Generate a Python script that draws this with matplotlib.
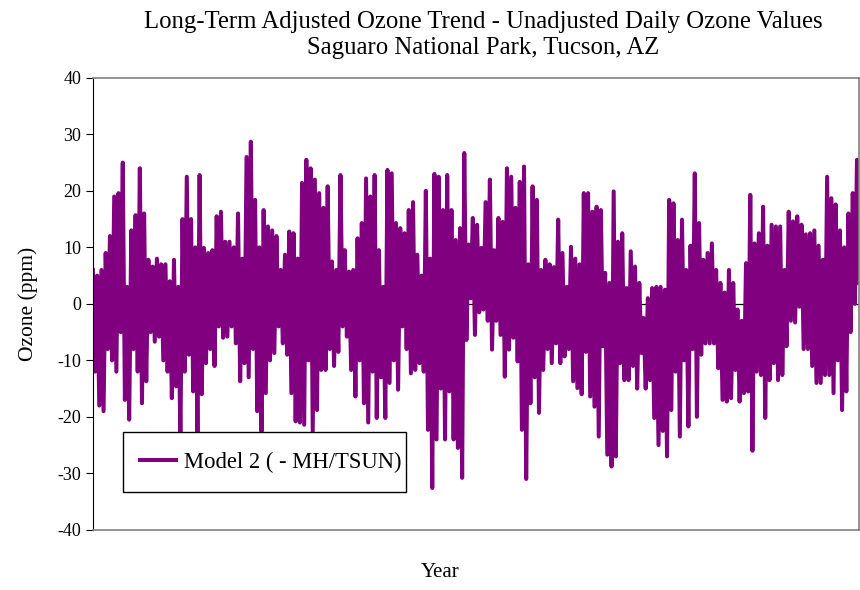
import numpy as np
import matplotlib.pyplot as plt
from matplotlib.patches import Rectangle

# daily ozone residuals (ppm) left to right, in six stretches
seg1 = [6, -12, 5, -18, 6, -19, 9, -8, 12, -10, 19, -12, 19.6, -5, 25, -17, 3, -20.5, 13, -8,
        15.7, -12, 24, -17.6, 16, -13.7, 7.8, -5, 6.6, -6.7, 8, -5.8, 7, -10, 7, -12, 4, -16.7,
        7.8, -14.6, 3, -24, 15, -12, 22.5, -9, 15, -15.5, 10, -23, 22.8, -16, 9.9, -10.5, 9, -8]
seg2 = [9.5, -11, 15.5, -4, 16.3, -6, 11, -5.8, 11, -4, 10, -7, 16, -13.7, 8, -10.5, 26, -13,
        28.7, -8, 18.4, -19, 10, -22.6, 16.6, -15.8, 13.7, -10, 13, -8.7, 12, -4, 6, -7, 8.7, -9,
        12.8, -15.8, 12.5, -20.8, 8, -21, 21.4, -21.4, 25.5, -10, 24, -22.6, 22, -18.8, 19.6, -11.7]
seg3 = [17, -11.7, 20.8, -8, 7.5, -11, 6, -8.5, 22.8, -4, 9.5, -5.8, 5.7, -11.7, 6, -16.4,
        11.6, -10, 14.3, -17.6, 22.2, -21, 19, -12, 22.8, -20.2, 9.5, -13, 3, -20.2, 23.7, -14,
        23.1, -10, 14.3, -15.2, 13.4, -4, 12.5, -8, 16.6, -12.3, 18, -11.7, 8.7, -10.5, 5, -12,
        20, -22.3, 8, -32.6, 23, -24, 22.5, -15, 16.6, -24]
seg4 = [22.8, -15.5, 16.6, -24, 11.3, -25.5, 13.4, -30.8, 26.7, -6.4, 10.5, 1, 15.2, -5.5,
        14, -1.5, 9.9, -1, 18, -3, 22, -8.1, 9.5, -3, 15.2, -5.5, 14.5, -12.9, 24, -8.1, 22.5, -6,
        17, -10.2, 21.6, -22.3, 24.3, -31, 7, -17.6, 20.8, -13, 18.4, -19.3, 6, -11.7, 7.8, -8,
        7, -10.5, 6.5, -7, 14.9, -10.5, 9, -9.3, 3, -8, 10.1, -13.7, 8, -14.9, 7, -16, 19.6, -8.5]
seg5 = [19.6, -16.4, 16.3, -18.2, 17.2, -23.5, 16.6, -7.5, 5.5, -26.7, 3.7, -28.8, 19.9, -27,
        11, -10.5, 12.5, -13.5, 2.8, -13.5, 9.3, -11, 6.6, -15, 3.7, -8.7, -2.5, -15, 1, -13.5,
        2.8, -20.2, 3, -25, 3, -22.5, 2.5, -27, 18.4, -18.8, 17.8, -12, 11.3, -23.5, 14.9, -10,
        6, -21.7, 10.3, -8, 23.1, -20, 14.3, -9, 7.8, -7, 9, -7, 10.7, -7, 6, -11.4, 3.7, -17, 2, -17.3]
seg6 = [6, -16.7, 3.7, -11.7, -1, -17.3, -3, -15.8, 7.2, -15.5, 19.3, -26, 10.7, -12, 12.5,
        -12.6, 17.2, -20.2, 10.3, -13.5, 14, -10.5, 13.7, -13.5, 13.7, -12.6, 6, -7.5, 16.3, -3,
        14.6, -3.3, 15.5, -0.5, 14, -8, 12.3, -8, 12.5, -11, 13, -14, 10.3, -14, 7.8, -12.6,
        22.5, -12.6, 18.7, -15.8, 17.6, -10, 13, -18.8, 10, -15.5, 16, -5, 19.6, 0, 25.5, 3.7]

ozone = np.array(seg1 + seg2 + seg3 + seg4 + seg5 + seg6)
days = np.arange(len(ozone))

yticks = [-40, -30, -20, -10, 0, 10, 20, 30, 40]

plt.rcParams['font.family'] = ['Liberation Serif', 'DejaVu Serif']
plt.rcParams['axes.unicode_minus'] = False

fig = plt.figure(figsize=(8.6, 5.9), dpi=100)
ax = fig.add_axes([0.108, 0.102, 0.891, 0.766])

ax.plot(days, ozone, color='#800080', linewidth=2.9, label='Model 2 ( - MH/TSUN)')
ax.axhline(0, color='black', linewidth=0.9, zorder=0)

ax.set_xlim(days[0], days[-1])
ax.set_ylim(-40, 40)
ax.set_yticks(yticks)
ax.set_xticks([])
ax.tick_params(axis='y', direction='out', length=5, labelsize=13, colors='black')

for s in ['top', 'bottom', 'right']:
    ax.spines[s].set_color('#808080')
    ax.spines[s].set_linewidth(1.2)
ax.spines['left'].set_color('black')

ax.set_ylabel('Ozone (ppm)', fontsize=15.5, labelpad=14)
fig.text(0.512, 0.013, 'Year', fontsize=15, ha='center', va='bottom')
fig.text(0.562, 0.963, 'Long-Term Adjusted Ozone Trend - Unadjusted Daily Ozone Values',
         fontsize=17.8, ha='center', va='center')
fig.text(0.562, 0.919, 'Saguaro National Park, Tucson, AZ', fontsize=17.8, ha='center', va='center')

# legend box drawn separately so its padding matches the original
ax.add_patch(Rectangle((0.039, 0.084), 0.370, 0.133, transform=ax.transAxes,
                       facecolor='white', edgecolor='black', linewidth=1.0, zorder=4))
leg = ax.legend(loc='center left', bbox_to_anchor=(0.0613, 0.150), fontsize=16.3, frameon=False,
                handlelength=1.6, handletextpad=0.35, borderpad=0, borderaxespad=0)
leg.set_zorder(5)

fig.savefig('out.png', dpi=100)
